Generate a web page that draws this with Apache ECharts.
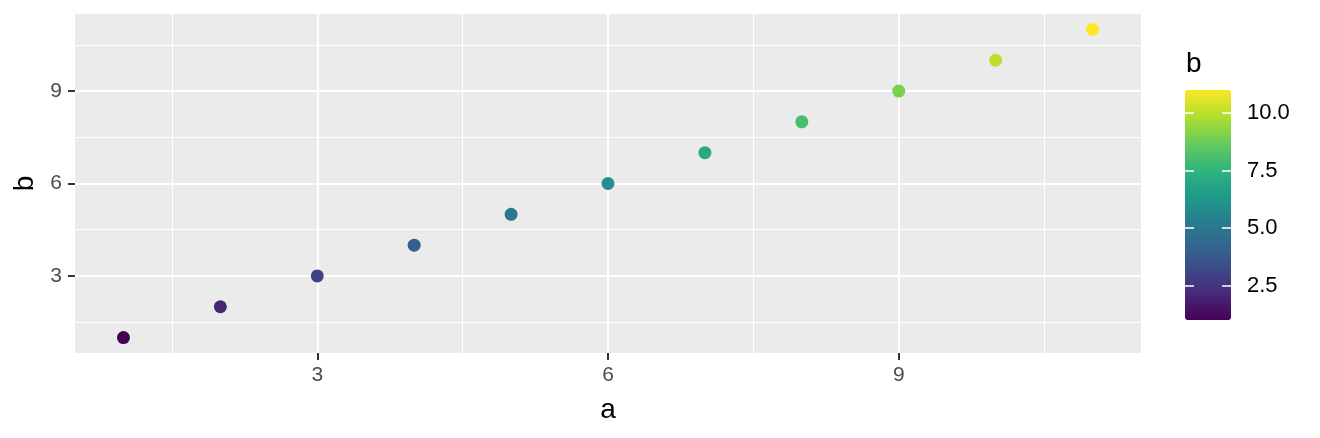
<!DOCTYPE html>
<html><head><meta charset="utf-8">
<script src="https://cdn.jsdelivr.net/npm/echarts@6/dist/echarts.min.js"></script>
<style>html,body{margin:0;padding:0;background:#fff}#c{width:1320px;height:438px}</style>
</head><body><div id="c"></div>
<script>
const aValues = [1, 2, 3, 4, 5, 6, 7, 8, 9, 10, 11];
const bValues = [1, 2, 3, 4, 5, 6, 7, 8, 9, 10, 11];
const xTicks = [3, 6, 9];
const yTicks = [3, 6, 9];
const xMinor = [1.5, 4.5, 7.5, 10.5];
const yMinor = [1.5, 4.5, 7.5, 10.5];
const legendTicks = [2.5, 5, 7.5, 10];
const viridis = ['#440154', '#482878', '#3E4A89', '#31688E', '#26828E', '#1F9E89', '#35B779', '#6DCD59', '#B4DE2C', '#FDE725'];

const points = aValues.map((a, i) => [a, bValues[i]]);
const FONT = "'Liberation Sans', Arial, sans-serif";

const chart = echarts.init(document.getElementById('c'), null, {renderer: 'canvas'});
chart.setOption({
  animation: false,
  backgroundColor: '#fff',
  textStyle: {fontFamily: FONT},
  title: {text: 'b', left: 1186, top: 50, padding: 0,
    textStyle: {fontSize: 28, fontWeight: 'normal', color: '#000', fontFamily: FONT}},
  grid: [
    {left: 75, right: 179, top: 14, bottom: 85, show: true, backgroundColor: '#EBEBEB', borderWidth: 0},
    {left: 1185, top: 90, width: 46, height: 230, show: false}
  ],
  xAxis: [
    {gridIndex: 0, type: 'value', min: 0.5, max: 11.5, position: 'bottom',
      name: 'a', nameLocation: 'middle', nameGap: 43,
      nameTextStyle: {fontSize: 28, color: '#000', fontFamily: FONT},
      axisLine: {show: false},
      axisTick: {show: true, customValues: xTicks, length: 7, lineStyle: {color: '#333333', width: 2}},
      axisLabel: {customValues: xTicks, margin: 12, fontSize: 21, color: '#4D4D4D', fontFamily: FONT},
      splitLine: {show: true, lineStyle: {color: '#FFFFFF', width: 2}}},
    {gridIndex: 0, type: 'value', min: 0.5, max: 11.5, position: 'top',
      axisLine: {show: false},
      axisTick: {show: false, customValues: xMinor},
      axisLabel: {show: false, customValues: xMinor},
      splitLine: {show: true, lineStyle: {color: '#FFFFFF', width: 1}}},
    {gridIndex: 1, type: 'value', min: 0, max: 1, show: false}
  ],
  yAxis: [
    {gridIndex: 0, type: 'value', min: 0.5, max: 11.5, position: 'left',
      name: 'b', nameLocation: 'middle', nameGap: 32, nameRotate: 90,
      nameTextStyle: {fontSize: 28, color: '#000', fontFamily: FONT},
      axisLine: {show: false},
      axisTick: {show: true, customValues: yTicks, length: 7, lineStyle: {color: '#333333', width: 2}},
      axisLabel: {customValues: yTicks, margin: 13, fontSize: 21, color: '#4D4D4D', fontFamily: FONT},
      splitLine: {show: true, lineStyle: {color: '#FFFFFF', width: 2}}},
    {gridIndex: 0, type: 'value', min: 0.5, max: 11.5, position: 'right',
      axisLine: {show: false},
      axisTick: {show: false, customValues: yMinor},
      axisLabel: {show: false, customValues: yMinor},
      splitLine: {show: true, lineStyle: {color: '#FFFFFF', width: 1}}},
    {gridIndex: 1, type: 'value', min: 1, max: 11, position: 'right', z: 20,
      axisLine: {show: false, onZero: false},
      axisTick: {show: true, inside: true, length: 9, customValues: legendTicks, lineStyle: {color: '#FFFFFF', width: 1.5}},
      axisLabel: {customValues: legendTicks, formatter: v => v.toFixed(1), margin: 16, fontSize: 22, color: '#000', fontFamily: FONT},
      splitLine: {show: false}},
    {gridIndex: 1, type: 'value', min: 1, max: 11, position: 'left', z: 20,
      axisLine: {show: false, onZero: false},
      axisTick: {show: true, inside: true, length: 9, customValues: legendTicks, lineStyle: {color: '#FFFFFF', width: 1.5}},
      axisLabel: {show: false, customValues: legendTicks},
      splitLine: {show: false}}
  ],
  visualMap: {
    type: 'continuous', min: 1, max: 11, dimension: 1, seriesIndex: 0,
    inRange: {color: viridis}, calculable: false, hoverLink: false,
    orient: 'vertical', left: 1185, top: 90, padding: 0,
    itemWidth: 46, itemHeight: 230, text: null, z: 2
  },
  series: [{
    type: 'scatter', xAxisIndex: 0, yAxisIndex: 0, data: points,
    symbol: 'circle', symbolSize: 13, z: 5,
    itemStyle: {opacity: 1}
  }]
});
</script></body></html>
